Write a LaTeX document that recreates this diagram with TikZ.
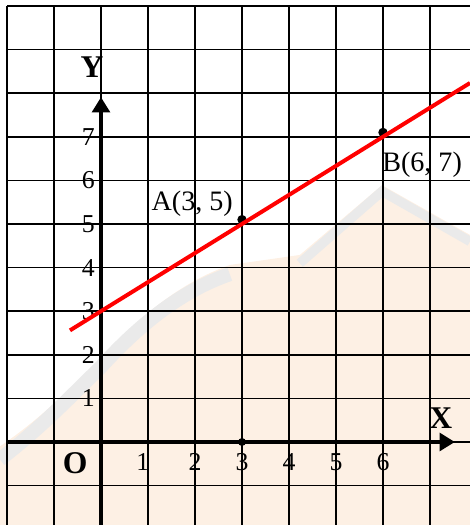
\documentclass[tikz,border=0pt]{standalone}
\usepackage{fontspec}
\setmainfont{Liberation Serif}
\usetikzlibrary{arrows.meta, positioning, calc}
\definecolor{peach}{RGB}{253,240,228}
\definecolor{markgray}{RGB}{234,234,234}

\begin{document}
\begin{tikzpicture}[x=1.41cm, y=1.308cm,
    gridline/.style={black, line width=1.4pt},
    axisline/.style={black, line width=3.6pt, -{Triangle[width=15pt, length=13pt]}},
    ticklbl/.style={font=\fontsize{22}{24}\selectfont, inner sep=0pt},
    axislbl/.style={font=\fontsize{27}{29}\selectfont\bfseries, inner sep=0pt},
    ptlbl/.style={font=\fontsize{24}{26}\selectfont, inner sep=0pt},
    ptdot/.style={fill=black}]
\useasboundingbox (-2.149,-1.904) rectangle (7.851,10.138);
% Watermark background
\fill[peach] (-2.149,-0.1) .. controls (-1.2,0.6) and (-0.6,1.3) .. (-0.02,1.88)
    .. controls (0.9,3.0) and (1.8,3.7) .. (2.74,4.06) -- (4.23,4.29) -- (5.98,5.89)
    -- (7.851,4.75) -- (7.851,-1.904) -- (-2.149,-1.904) -- cycle;
\draw[markgray, line width=12pt] (-2.149,-0.4) .. controls (-1.2,0.4) and (-0.6,1.1) .. (-0.02,1.7)
    .. controls (0.9,2.8) and (1.8,3.5) .. (2.74,3.85);
\draw[markgray, line width=8pt] (4.23,4.1) -- (5.98,5.75) -- (7.851,4.6);
% Grid lines
\foreach \x in {-2,...,7}
    \draw[gridline] (\x,-1.904) -- (\x,10);
\foreach \y in {-1,...,10}
    \draw[gridline] (-2,\y) -- (7.851,\y);
% Axes
\coordinate (xfrom) at (-1.98,0);
\coordinate (xto) at (7.53,0);
\coordinate (yfrom) at (0,-1.904);
\coordinate (yto) at (0,7.91);
\draw[axisline] (xfrom) -- (xto);
\draw[axisline] (yfrom) -- (yto);
\node[axislbl] (xlbl) at (7.23,0.55) {X};
\node[axislbl] (ylbl) at (-0.19,8.60) {Y};
\node[axislbl] (olbl) at (-0.55,-0.48) {O};
% Tick labels
\node[ticklbl] (x1) at (0.89,-0.46) {1};
\foreach \x in {2,...,6}
    \node[ticklbl] (x\x) at (\x,-0.46) {\x};
\foreach \y in {1,...,7}
    \node[ticklbl, anchor=east] (y\y) at (-0.13,\y) {\y};
% Points
\coordinate (A) at (3,5);
\coordinate (B) at (6,7);
\coordinate (P) at (3,0);
\fill[ptdot] ($(A)+(0,0.1)$) circle (4pt);
\fill[ptdot] ($(B)+(0,0.1)$) circle (4pt);
\fill[ptdot] (P) circle (3.4pt);
% Line through A and B
\coordinate (lfrom) at (-0.66,2.56);
\coordinate (lto) at (7.851,8.234);
\draw[red, line width=3.4pt] (lfrom) -- (lto);
\node[ptlbl, anchor=base east] (alb) at (2.81,5.3) {A(3, 5)};
\node[ptlbl, anchor=west] (blb) at (5.98,6.35) {B(6, 7)};
\end{tikzpicture}
\end{document}
